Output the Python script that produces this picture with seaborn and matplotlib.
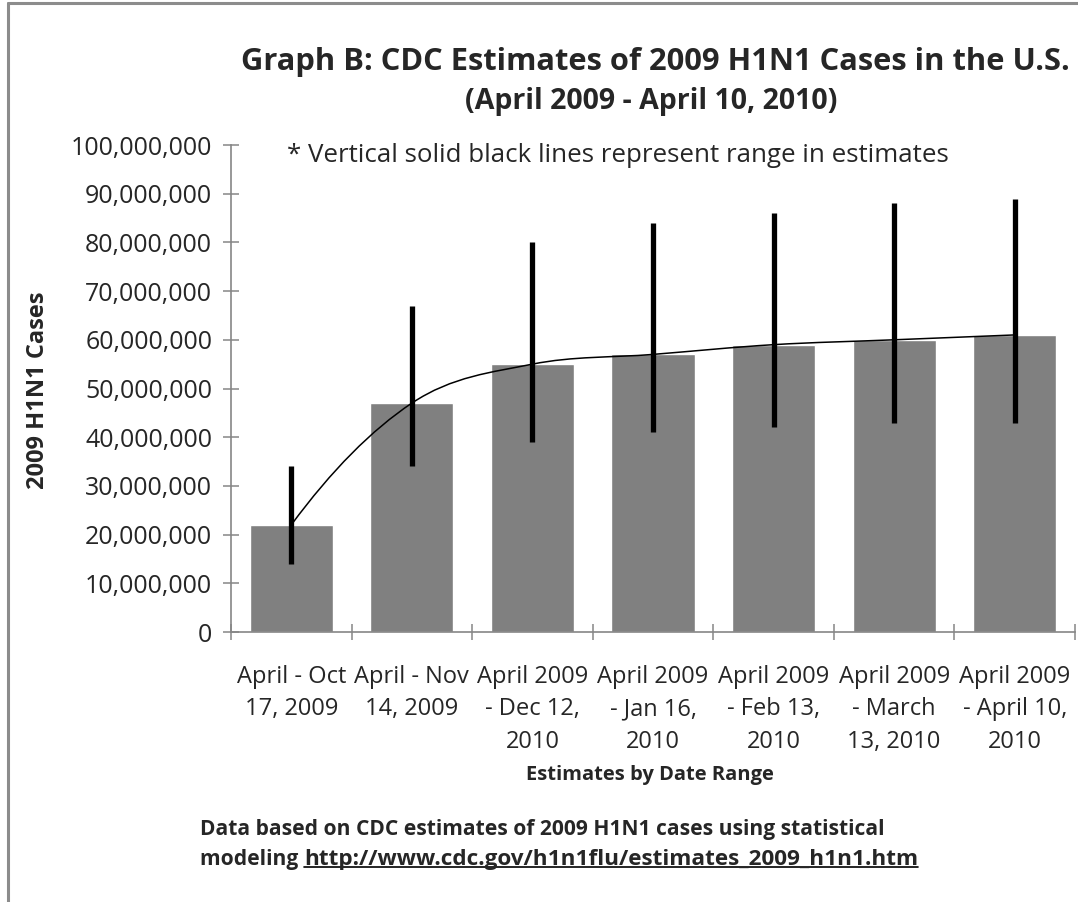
import numpy as np
import matplotlib.pyplot as plt
import seaborn as sns
from matplotlib.path import Path
from matplotlib.patches import PathPatch
from matplotlib.lines import Line2D
from matplotlib.ticker import FuncFormatter, FixedLocator

# CDC estimates of 2009 H1N1 cases (mid value, low, high)
date_ranges = ["April - Oct\n17, 2009", "April - Nov\n14, 2009",
               "April 2009\n- Dec 12,\n2010", "April 2009\n- Jan 16,\n2010",
               "April 2009\n- Feb 13,\n2010", "April 2009\n- March\n13, 2010",
               "April 2009\n- April 10,\n2010"]
cases = [22e6, 47e6, 55e6, 57e6, 59e6, 60e6, 61e6]
cases_low = [14e6, 34e6, 39e6, 41e6, 42e6, 43e6, 43e6]
cases_high = [34e6, 67e6, 80e6, 84e6, 86e6, 88e6, 89e6]
y_ticks = list(range(0, 100_000_001, 10_000_000))

sns.set_style("white")
plt.rcParams['font.family'] = ['Open Sans', 'DejaVu Sans']

W, H = 1078, 902
fig = plt.figure(figsize=(W / 100, H / 100), dpi=100)
ax = fig.add_axes([231 / W, 1 - 632 / H, (1075 - 231) / W, (632 - 145) / H])

axis_gray = '#868686'
sns.barplot(x=date_ranges, y=cases, color='#808080', width=0.69,
            saturation=1, ax=ax)

# range of estimates
xs = np.arange(len(cases))
ax.vlines(xs, cases_low, cases_high, colors='black', linewidth=3.8, zorder=3)

# smooth line through the bar tops (bezier, catmull-rom tangents,
# parabolic tangents at both ends)
pts = np.column_stack([xs, cases]).astype(float)
n = len(pts)
tang = np.zeros_like(pts)
for i in range(1, n - 1):
    tang[i] = (pts[i + 1] - pts[i - 1]) / 2
tang[0] = 2 * (pts[1] - pts[0]) - tang[1]
tang[-1] = 2 * (pts[-1] - pts[-2]) - tang[-2]
verts = [tuple(pts[0])]
codes = [Path.MOVETO]
for i in range(n - 1):
    c1 = pts[i] + tang[i] / 3
    c2 = pts[i + 1] - tang[i + 1] / 3
    verts += [tuple(c1), tuple(c2), tuple(pts[i + 1])]
    codes += [Path.CURVE4] * 3
ax.add_patch(PathPatch(Path(verts, codes), facecolor='none',
                       edgecolor='black', linewidth=1.1, zorder=4))

ax.set_xlim(-0.5, len(cases) - 0.5)
ax.set_ylim(0, 100_000_000)
ax.yaxis.set_major_locator(FixedLocator(y_ticks))
ax.yaxis.set_major_formatter(FuncFormatter(lambda v, p: f"{int(v):,}"))
ax.xaxis.set_minor_locator(FixedLocator(np.arange(-0.5, len(cases), 1.0)))

for s in ['top', 'right']:
    ax.spines[s].set_visible(False)
for s in ['left', 'bottom']:
    ax.spines[s].set_color(axis_gray)
    ax.spines[s].set_linewidth(1.2)

ax.tick_params(axis='y', direction='inout', length=12, width=1.1,
               color=axis_gray, labelsize=18, pad=7.5, left=True)
ax.tick_params(axis='x', which='major', length=0, labelsize=17, pad=24)
ax.tick_params(axis='x', which='minor', direction='inout', length=12,
               width=1.1, color=axis_gray, bottom=True)
for lab in ax.get_xticklabels():
    lab.set_linespacing(1.45)
ax.set_xlabel('')
ax.set_ylabel('')


def fx(px):
    return px / W


def fy(py):
    return 1 - py / H


fig.text(fx(655), fy(62), 'Graph B: CDC Estimates of 2009 H1N1 Cases in the U.S.',
         ha='center', va='center', fontsize=22.2, fontweight='bold')
fig.text(fx(651), fy(101), '(April 2009 - April 10, 2010)',
         ha='center', va='center', fontsize=20.5, fontweight='bold')
fig.text(fx(287), fy(156), '* Vertical solid black lines represent range in estimates',
         ha='left', va='center', fontsize=18.6)
fig.text(fx(38), fy(390), '2009 H1N1 Cases', rotation=90,
         ha='center', va='center', fontsize=17, fontweight='bold')
fig.text(fx(650), fy(775), 'Estimates by Date Range',
         ha='center', va='center', fontsize=14.5, fontweight='bold')

fig.text(fx(200), fy(830),
         'Data based on CDC estimates of 2009 H1N1 cases using statistical',
         ha='left', va='center', fontsize=15.1, fontweight='bold')
t1 = fig.text(fx(200), fy(859), 'modeling ', ha='left', va='center',
              fontsize=15.1, fontweight='bold')
fig.canvas.draw()
r = fig.canvas.get_renderer()
bb = t1.get_window_extent(r)
t2 = fig.text(bb.x1 / W, fy(859), 'http://www.cdc.gov/h1n1flu/estimates_2009_h1n1.htm',
              ha='left', va='center', fontsize=16.2, fontweight='bold')
bb2 = t2.get_window_extent(r)
uy = (bb2.y0 + 3) / H
fig.add_artist(Line2D([bb2.x0 / W, bb2.x1 / W], [uy, uy], color='black',
                      linewidth=1.2, transform=fig.transFigure))

# frame of the picture
frame = '#8c8c8c'
fig.add_artist(Line2D([fx(8), fx(8)], [0, fy(3)], color=frame, linewidth=2.2,
                      transform=fig.transFigure))
fig.add_artist(Line2D([fx(8), 1], [fy(3), fy(3)], color=frame, linewidth=2.2,
                      transform=fig.transFigure))

fig.savefig('out.png', dpi=100)
